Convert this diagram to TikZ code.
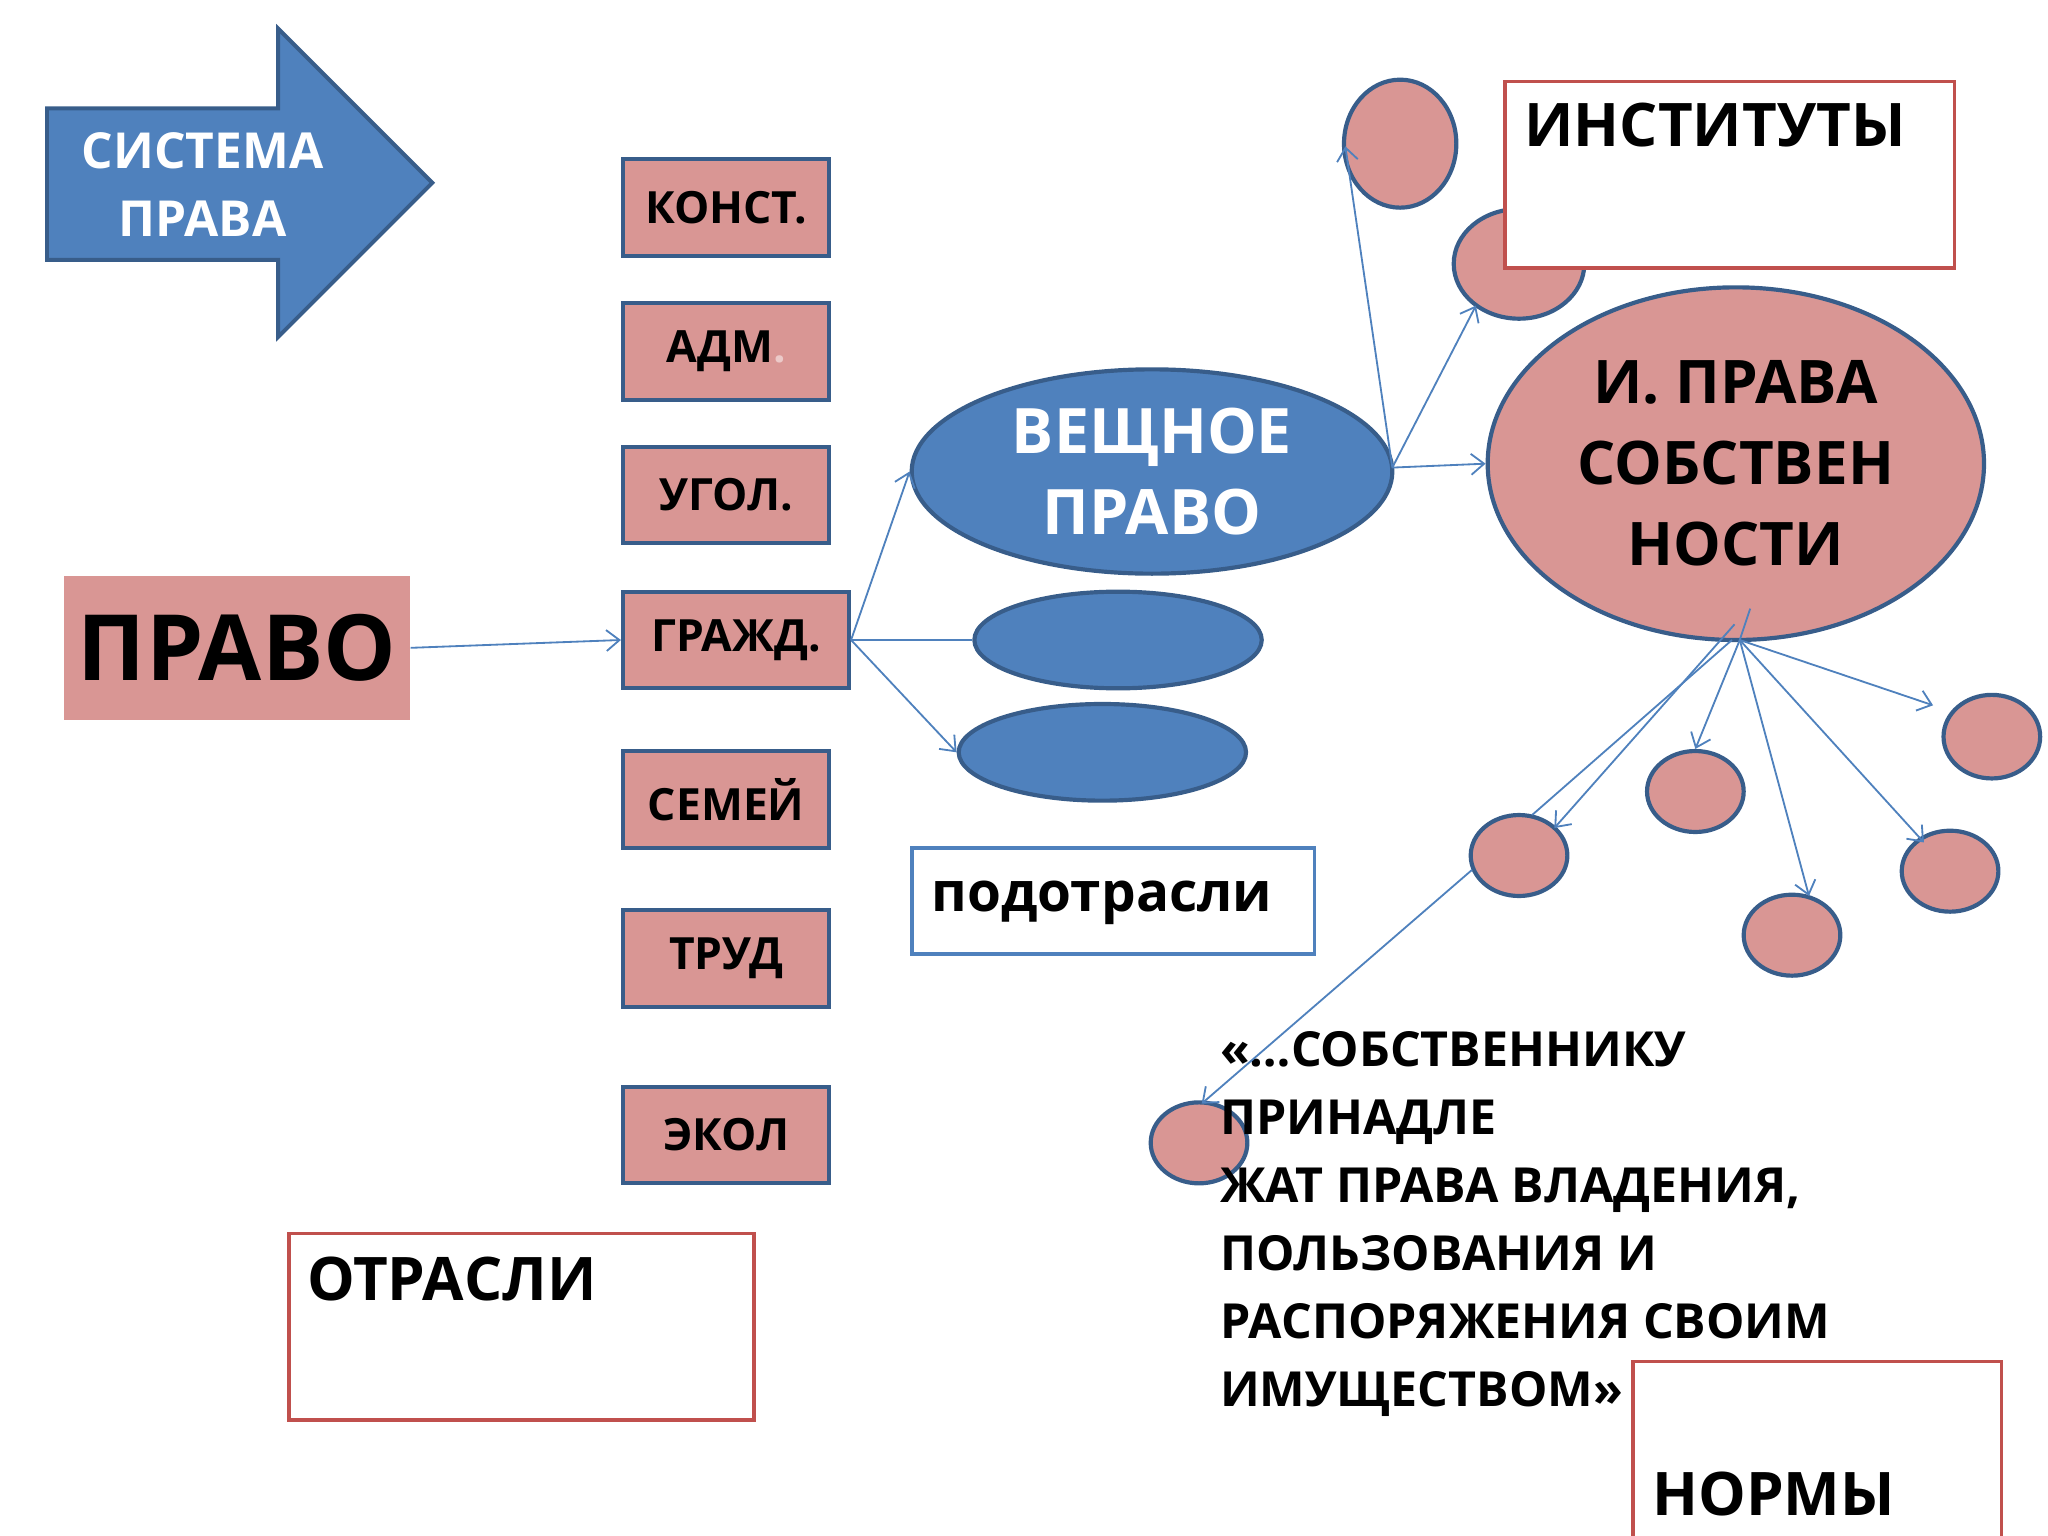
\documentclass[tikz,border=0pt]{standalone}
\usepackage{fontspec}
\setmainfont{Open Sans}
\usetikzlibrary{shapes.geometric,arrows.meta}
\definecolor{pk}{HTML}{D99694}
\definecolor{bl}{HTML}{4F81BD}
\definecolor{dbl}{HTML}{385D8A}
\definecolor{rd}{HTML}{C0504D}
\tikzset{
 br/.style={draw=dbl,line width=1.6pt,fill=pk,minimum width=79pt,minimum height=37pt,font=\bfseries\fontsize{17}{20}\selectfont},
 pel/.style={ellipse,draw=dbl,line width=1.6pt,fill=pk},
 bel/.style={ellipse,draw=dbl,line width=1.6pt,fill=bl},
 con/.style={draw=bl,line width=0.7pt},
 arr/.style={con,-{Straight Barb[length=5pt,width=8pt]}},
 lbl/.style={draw=rd,line width=1.3pt,fill=white,anchor=north west}
}
\begin{document}
\begin{tikzpicture}[x=0.5pt,y=-0.5pt]
\useasboundingbox (0,0) rectangle (1568,1176);
% arrow
\filldraw[fill=bl,draw=dbl,line width=1.5pt] (36,83)--(213,83)--(213,22)--(331,140)--(213,258)--(213,199)--(36,199)--cycle;
\node[text=white,align=center,font=\bfseries\fontsize{19}{26}\selectfont] (sys) at (155,141) {СИСТЕМА\\ПРАВА};
% ПРАВО
\node[fill=pk,minimum width=132.5pt,minimum height=55pt,font=\bfseries\fontsize{35}{40}\selectfont] (pravo) at (181.5,496) {ПРАВО};
% branches
\node[br] (konst) at (556,159) {КОНСТ.};
\node[br] (adm) at (556,269) {АДМ\textcolor{pk!50!white}{.}};
\node[br] (ugol) at (556,379) {УГОЛ.};
\node[br,minimum width=86.5pt] (grazh) at (563.5,490) {ГРАЖД.};
\node[br] (semei) at (556,612) {СЕМЕЙ};
\node[br] (trud) at (556,734) {ТРУД};
\node[br] (ekol) at (556,869) {ЭКОЛ};
% blue ellipses
\node[bel,minimum width=184pt,minimum height=55pt,text=white,align=center,font=\bfseries\fontsize{24}{31}\selectfont] (vesh) at (882,361) {ВЕЩНОЕ\\ПРАВО};
\node[bel,minimum width=110pt,minimum height=37pt] (e2) at (856,490) {};
\node[bel,minimum width=110pt,minimum height=37pt] (e3) at (844,576) {};
% подотрасли
\node[draw=bl,line width=1.3pt,fill=white,anchor=north west,minimum width=154pt,minimum height=40.5pt] (pod) at (697,648) {};
\node[anchor=west,font=\bfseries\fontsize{21}{24}\selectfont] (podt) at (706,691) {подотрасли};
% pink ellipses
\node[pel,minimum width=43pt,minimum height=49pt] (p1) at (1072,110) {};
\node[pel,minimum width=50pt,minimum height=42pt] (p2) at (1163,202) {};
\node[lbl,minimum width=172pt,minimum height=71.5pt] (inst) at (1151,61) {};
\node[anchor=north west,font=\bfseries\fontsize{23}{26}\selectfont] (instt) at (1160,72) {ИНСТИТУТЫ};
\node[pel,minimum width=190pt,minimum height=135pt,align=center,font=\bfseries\fontsize{23}{31}\selectfont] (big) at (1329,355) {И. ПРАВА\\СОБСТВЕН\\НОСТИ};
\node[pel,minimum width=37pt,minimum height=32pt] (q1) at (1525,564) {};
\node[pel,minimum width=37pt,minimum height=31pt] (q2) at (1298,606) {};
\node[pel,minimum width=37pt,minimum height=31pt] (q3) at (1163,655) {};
\node[pel,minimum width=37pt,minimum height=31pt] (q4) at (1493,667) {};
\node[pel,minimum width=37pt,minimum height=31pt] (q5) at (1372,716) {};
\node[pel,minimum width=37pt,minimum height=31pt] (q6) at (918,875) {};
% boxes
\node[lbl,minimum width=178pt,minimum height=71.5pt] (otr) at (220,943) {};
\node[anchor=north west,font=\bfseries\fontsize{23}{26}\selectfont] (otrt) at (228,955) {ОТРАСЛИ};
\node[lbl,minimum width=141pt,minimum height=70pt] (norm) at (1249,1041) {};
\node[anchor=west,font=\bfseries\fontsize{23}{26}\selectfont] (normt) at (1258,1144) {НОРМЫ};
% quote
\node[anchor=north west,align=left,font=\bfseries\fontsize{18.5}{26}\selectfont] (quote) at (927,783) {«…СОБСТВЕННИКУ\\ПРИНАДЛЕ\\ЖАТ ПРАВА ВЛАДЕНИЯ,\\ПОЛЬЗОВАНИЯ И\\РАСПОРЯЖЕНИЯ СВОИМ\\ИМУЩЕСТВОМ»};
% connectors
\draw[arr] (pravo.east) -- (grazh.west);
\draw[arr] (grazh.east) -- (vesh.west);
\draw[con] (grazh.east) -- (e2.west);
\draw[arr] (grazh.east) -- (e3.west);
\coordinate (vr) at (1066,358);
\draw[arr] (vr) -- (1030,112);
\draw[arr] (vr) -- (1130,234);
\draw[arr] (vr) -- (big.west);
\coordinate (bb) at (1332,490);
\draw[con] (1340,466) -- (bb);
\draw[arr] (bb) -- (1480,540);
\draw[arr] (bb) -- (q2.north);
\draw[arr] (bb) -- (1385,686);
\draw[arr] (bb) -- (1473,645);
\draw[arr] (1328,478) -- (1190,634);
\draw[con] (1326,490) -- (1173,624);
\draw[arr] (1127,666) -- (920,845);
\end{tikzpicture}
\end{document}
